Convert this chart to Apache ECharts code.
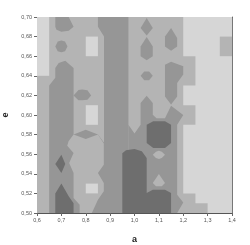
<!DOCTYPE html>
<html><head><meta charset="utf-8">
<style>html,body{margin:0;padding:0;background:#fff}#c{width:250px;height:245px}</style>
<script src="https://cdn.jsdelivr.net/npm/echarts@6/dist/echarts.min.js"></script>
</head><body><div id="c"></div>
<script>
// Contour bands: 0 = lightest ... 3 = darkest. Vertices are [a, e].
var aTicks = [0.6,0.7,0.8,0.9,1.0,1.1,1.2,1.3,1.4];
var eTicks = [0.50,0.52,0.54,0.56,0.58,0.60,0.62,0.64,0.66,0.68,0.70];
var bandColors = ['#d6d6d6','#b4b4b4','#969696','#6e6e6e'];

var backdrop = [1, [[.6,.5],[1.4,.5],[1.4,.7],[.6,.7]]];
var rightLight = [0, [[1.2,.7],[1.4,.7],[1.4,.5],[1.3,.5],[1.3,.51],[1.25,.51],[1.25,.52],[1.2,.52],[1.2,.59],[1.25,.59],[1.25,.61],[1.2,.61],[1.2,.63],[1.25,.63],[1.25,.66],[1.2,.66]]];
var rightPatch = [1, [[1.35,.68],[1.4,.68],[1.4,.66],[1.35,.66]]];
var leftLight = [0, [[.6,.7],[.65,.7],[.65,.64],[.6,.64]]];
var centerSquareA = [0, [[.8,.68],[.85,.68],[.85,.66],[.8,.66]]];
var centerSquareB = [0, [[.8,.61],[.85,.61],[.85,.59],[.8,.59]]];
var topBlob = [2, [[.675,.7],[.73,.7],[.75,.69],[.73,.686],[.70,.685],[.68,.687],[.675,.69]]];
var smallBlob = [2, [[.675,.67],[.685,.675],[.70,.676],[.715,.675],[.725,.67],[.715,.665],[.70,.664],[.685,.665]]];
var lowerLeft = [2, [[.65,.5],[.65,.63],[.675,.638],[.675,.648],[.689,.653],[.716,.6554],[.75,.648],[.75,.58],[.80,.585],[.85,.58],[.875,.5717],[.875,.5]]];
var midBlob = [2, [[.75,.62],[.77,.6255],[.785,.6259],[.807,.6252],[.822,.62],[.807,.6156],[.785,.615],[.77,.615]]];
var centerColumn = [1, [[.75,.58],[.80,.5755],[.85,.58],[.874,.571],[.874,.5493],[.85,.5408],[.874,.5306],[.874,.5221],[.85,.5136],[.825,.5],[.775,.5],[.775,.5085],[.75,.5153],[.75,.5408],[.732,.551],[.75,.5612],[.724,.5687],[.7295,.5731]]];
var centerSquareC = [0, [[.8,.53],[.85,.53],[.85,.52],[.8,.52]]];
var coreBand = [2, [[.85,.7],[.85,.69],[.875,.68],[.875,.5],[.975,.5],[.975,.7]]];
var rightBand = [2, [[.975,.5],[.975,.59],[1.0,.581],[1.025,.59],[1.025,.6122],[1.05,.6197],[1.075,.6122],[1.075,.6003],[1.09,.5966],[1.125,.5966],[1.15,.6095],[1.2,.6],[1.175,.59],[1.175,.5187],[1.2,.5108],[1.175,.5]]];
var upperDiamond = [2, [[1.05,.6989],[1.075,.6888],[1.05,.681],[1.025,.6888]]];
var upperDrop = [2, [[1.05,.6796],[1.075,.67],[1.075,.66],[1.05,.6558],[1.025,.66],[1.025,.67]]];
var upperRight = [2, [[1.15,.6888],[1.175,.6786],[1.175,.67],[1.15,.6656],[1.125,.67],[1.125,.68]]];
var upperOval = [2, [[1.025,.64],[1.04,.6445],[1.06,.6445],[1.075,.64],[1.06,.6355],[1.04,.6355]]];
var upperBig = [2, [[1.125,.6514],[1.15,.6544],[1.2,.6497],[1.2,.6412],[1.175,.6327],[1.175,.619],[1.15,.6106],[1.125,.619]]];
var darkLowerLeft = [3, [[.675,.5],[.675,.52],[.70,.53],[.73,.517],[.75,.51],[.75,.5]]];
var darkDiamond = [3, [[.70,.5595],[.675,.55],[.70,.5408],[.716,.55]]];
var darkBottom = [3, [[.95,.5],[.95,.561],[.965,.564],[1.0,.5653],[1.03,.563],[1.05,.556],[1.05,.5204],[1.075,.5238],[1.125,.5238],[1.15,.5204],[1.15,.5]]];
var darkHexagon = [3, [[1.05,.59],[1.077,.5935],[1.125,.5935],[1.15,.59],[1.15,.5714],[1.125,.5663],[1.077,.5663],[1.05,.5714]]];
var lens = [1, [[1.075,.5595],[1.088,.5625],[1.1,.5636],[1.112,.5625],[1.125,.5595],[1.112,.556],[1.1,.5551],[1.088,.556]]];
var drop = [1, [[1.1,.5398],[1.125,.5306],[1.112,.5272],[1.088,.5272],[1.075,.5306]]];

var regions = [backdrop,rightLight,rightPatch,leftLight,centerSquareA,topBlob,smallBlob,lowerLeft,midBlob,centerColumn,centerSquareB,centerSquareC,coreBand,rightBand,upperDiamond,upperDrop,upperRight,upperOval,upperBig,darkLowerLeft,darkDiamond,darkBottom,darkHexagon,lens,drop];

var chart = echarts.init(document.getElementById('c'), null, {renderer:'canvas'});
var font = 'Liberation Sans';
var x = {
  type:'value',min:0.6,max:1.4,interval:0.1,name:'a',nameLocation:'middle',nameGap:22,
  nameTextStyle:{fontFamily:font,fontSize:9,fontWeight:'bold',color:'#222'},
  axisLine:{show:true,onZero:false,lineStyle:{color:'#555',width:1}},
  axisTick:{show:true,length:3,lineStyle:{color:'#666',width:1}},
  splitLine:{show:false},
  axisLabel:{fontFamily:font,fontSize:5.5,color:'#555',margin:4,showMinLabel:true,showMaxLabel:true,formatter:function(v){return v.toFixed(1).replace('.',',');}}
};
var y = {
  type:'value',min:0.5,max:0.7,interval:0.02,name:'e',nameLocation:'middle',nameGap:26,nameRotate:90,
  nameTextStyle:{fontFamily:font,fontSize:9,fontWeight:'bold',color:'#222'},
  axisLine:{show:false,onZero:false},
  axisTick:{show:true,length:3,lineStyle:{color:'#666',width:1}},
  splitLine:{show:false},
  axisLabel:{fontFamily:font,fontSize:5.5,color:'#555',margin:5,showMinLabel:true,showMaxLabel:true,formatter:function(v){return v.toFixed(2).replace('.',',');}}
};
var x2={type:'value',position:'top',min:0.6,max:1.4,interval:0.1,axisLine:{show:true,lineStyle:{color:'#555'}},axisTick:{show:false},axisLabel:{show:false},splitLine:{show:false}};
var y2={type:'value',position:'right',min:0.5,max:0.7,interval:0.02,axisLine:{show:true,lineStyle:{color:'#777'}},axisTick:{show:false},axisLabel:{show:false},splitLine:{show:false}};
chart.setOption({
  animation:false,
  backgroundColor:'#fff',
  grid:{left:37,right:18,top:17,bottom:32,containLabel:false,outerBoundsMode:'none'},
  xAxis:[x,x2],
  yAxis:[y,y2],
  series:[{
    type:'custom',
    coordinateSystem:'cartesian2d',
    clip:true,
    silent:true,
    data:regions.map(function(r,i){return [i];}),
    encode:{x:[],y:[]},
    renderItem:function(params,api){
      var r=regions[api.value(0)];
      return {type:'polygon',shape:{points:r[1].map(function(p){return api.coord(p);})},style:{fill:bandColors[r[0]],stroke:null}};
    }
  }]
});
</script></body></html>
